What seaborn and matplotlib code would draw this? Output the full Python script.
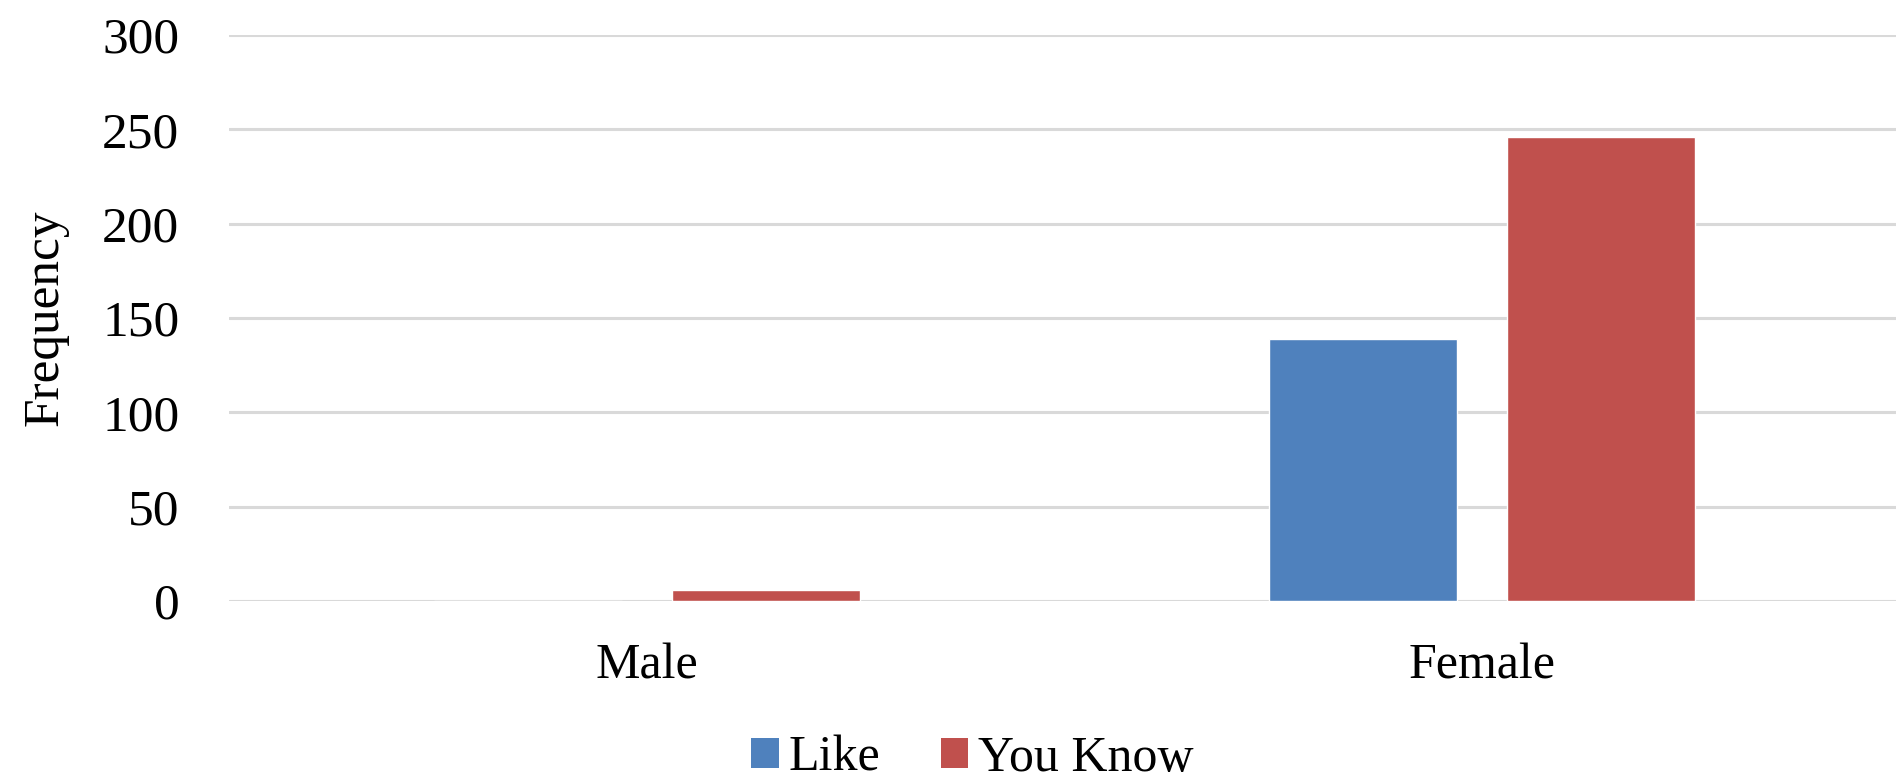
import matplotlib
matplotlib.use("Agg")
import matplotlib.pyplot as plt
import seaborn as sns
import pandas as pd
from matplotlib.patches import Patch

genders = ["Male", "Female"]
series = ["Like", "You Know"]
like_counts = [0, 139]
youknow_counts = [6, 246]
y_ticks = [0, 50, 100, 150, 200, 250, 300]

colors = {"Like": "#4F81BD", "You Know": "#C0504D"}

df = pd.DataFrame({
    "Gender": genders * 2,
    "Series": [series[0]] * len(genders) + [series[1]] * len(genders),
    "Frequency": like_counts + youknow_counts,
})

sns.set_theme(style="white")
plt.rcParams["font.family"] = ["Liberation Serif", "DejaVu Serif"]
plt.rcParams["text.color"] = "#000000"

fig = plt.figure(figsize=(18.96, 7.82), dpi=100)
ax = fig.add_axes([0.121, 0.2315, 0.8808, 0.7237])

sns.barplot(data=df, x="Gender", y="Frequency", hue="Series", order=genders,
            hue_order=series, palette=colors, width=0.571, gap=0.21,
            saturation=1, ax=ax, legend=False, zorder=3)

ax.set_ylim(0, 300)
ax.set_xlim(-0.5, 1.5)
ax.set_yticks(y_ticks)
ax.yaxis.grid(True, color="#d9d9d9", linewidth=2.2, zorder=0)
ax.set_axisbelow(True)
for s in ax.spines.values():
    s.set_visible(False)
ax.tick_params(axis="y", labelsize=37, length=0, pad=36, colors="#000000")
ax.tick_params(axis="x", labelsize=36, length=0, pad=30, colors="#000000")
ax.set_xlabel("")
ax.set_ylabel("Frequency", fontsize=37, labelpad=24, color="#000000")

handles = [Patch(facecolor=colors[s], edgecolor="none", label=s) for s in series]
fig.legend(handles=handles, loc="center", bbox_to_anchor=(0.513, 0.03),
           ncol=2, frameon=False, fontsize=36, handlelength=0.55,
           handleheight=0.55, handletextpad=0.2, columnspacing=1.2,
           labelcolor="#000000")

fig.savefig("out.png", dpi=100, facecolor="white")
